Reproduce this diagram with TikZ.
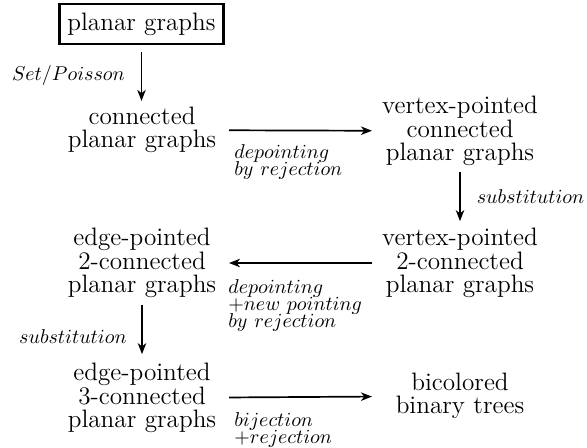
\documentclass[tikz,border=0pt]{standalone}
\usetikzlibrary{arrows.meta}
\begin{document}
\begin{tikzpicture}[x=0.5pt,y=-0.5pt,
  cls/.style={inner sep=0pt, outer sep=0pt, align=center, text width=80pt, font=\fontsize{12.6}{11.75}\selectfont, execute at begin node={\lineskiplimit=-20pt\relax}},
  boxed/.style={inner sep=0pt, outer sep=0pt, align=center, font=\fontsize{12.6}{11.75}\selectfont, draw, line width=1.2pt, minimum width=82pt, minimum height=20pt},
  lab/.style={inner sep=0pt, align=left, font=\fontsize{10.2}{8.6}\selectfont, execute at begin node={\lineskiplimit=-20pt\relax}},
  arr/.style={-{Stealth[length=5.5pt,width=4.2pt,inset=1.6pt]}, line width=0.85pt}]
\useasboundingbox (0,0) rectangle (587,447);
\node[boxed] (pg) at (141.5,24) {planar graphs};
\node[cls] (cpg) at (142,130) {connected\\planar graphs};
\node[cls] (vcpg) at (460,131) {vertex-pointed\\connected\\planar graphs};
\node[cls] (v2) at (460,263) {vertex-pointed\\2-connected\\planar graphs};
\node[cls] (e2) at (142,263) {edge-pointed\\2-connected\\planar graphs};
\node[cls] (e3) at (142,398) {edge-pointed\\3-connected\\planar graphs};
\node[cls] (bbt) at (460,396) {bicolored\\binary trees};
\draw[arr, shorten <=4pt, shorten >=3pt] (pg) -- (pg |- cpg.north) node[midway, left=8pt, lab] (l1) {$Set/Poisson$};
\draw[arr, shorten <=3.5pt, shorten >=4pt] (cpg) -- (vcpg);
\draw[arr, shorten <=3pt, shorten >=3.5pt] (vcpg) -- (v2) node[midway, right=8pt, lab] (l3) {$substitution$};
\draw[arr, shorten <=4pt, shorten >=3.5pt] (v2) -- (e2);
\draw[arr, shorten <=3.5pt, shorten >=4.5pt] (e2) -- (e3);
\draw[arr, shorten <=3.5pt, shorten >=4pt] (e3) -- (bbt);
\node[lab, anchor=north west] (l2) at (234,144) {$depointing$\\$by\ rejection$};
\node[lab, anchor=north west] (l4) at (228,279) {$depointing$\\$+new\ pointing$\\$by\ rejection$};
\node[lab, anchor=east] (l5) at (127,337) {$substitution$};
\node[lab, anchor=north west] (l6) at (234,412) {$bijection$\\$+rejection$};
\end{tikzpicture}
\end{document}
